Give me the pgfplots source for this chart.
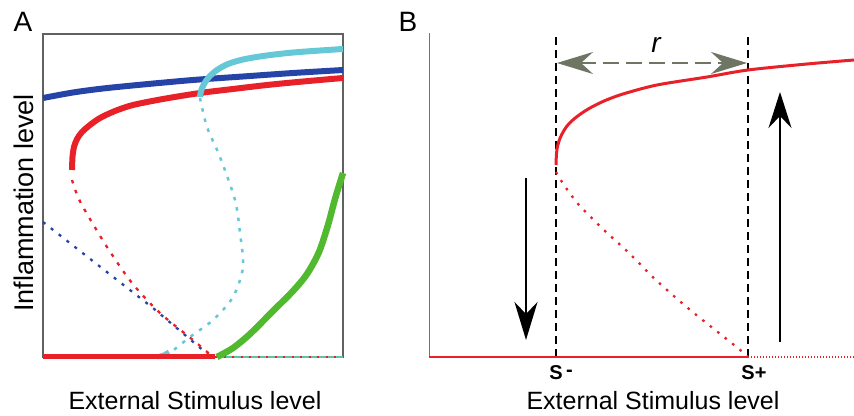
\documentclass[border=0pt]{standalone}
\usepackage{pgfplots}
\pgfplotsset{compat=1.18}
\usepackage{fontspec}
\setmainfont{Liberation Sans}
\usetikzlibrary{arrows.meta}
\definecolor{cblue}{RGB}{38,68,168}
\definecolor{cred}{RGB}{232,32,40}
\definecolor{ccyan}{RGB}{100,200,215}
\definecolor{cgreen}{RGB}{80,185,45}
\definecolor{cgrey}{RGB}{110,117,98}
\begin{document}
\begin{tikzpicture}
\useasboundingbox (0,0) rectangle (854pt,415pt);
% ---------- Panel A ----------
\begin{axis}[at={(43pt,58pt)}, anchor=south west, scale only axis,
  width=300pt, height=323pt, xmin=0, xmax=300, ymin=0, ymax=323,
  xtick=\empty, ytick=\empty, clip=false,
  axis line style={draw=black!62, line width=1.3pt}]
% dashed unstable branches
\addplot[cblue, line width=2.3pt, dash pattern=on 3pt off 7pt] coordinates {(0,135) (60,88) (110,49) (168,0)};
\addplot[cred, line width=2.3pt, dash pattern=on 3.5pt off 7pt, smooth] coordinates {(29,177) (33,165) (40,150) (64,110) (89,74) (117,44) (150,17) (170,0)};
\addplot[ccyan, line width=2.5pt, dash pattern=on 3.5pt off 7pt, smooth] coordinates {(157,259) (164,230) (177,200) (192,157) (197,124) (200,90) (190,60) (170,37) (147,20) (127,4)};
\addplot[ccyan!70!cgreen, line width=2.4pt] coordinates {(170,0) (300,0)};
\addplot[cred, line width=2.4pt, dash pattern=on 2pt off 6.5pt] coordinates {(172,0) (300,0)};
% solid stable branches
\addplot[ccyan, line width=5pt] coordinates {(114,0) (121,2) (126,5)};
\addplot[cred, line width=5pt] coordinates {(0,0) (172,0)};
\addplot[cblue, line width=6pt, smooth] coordinates {(0,259) (30,264.5) (60,268.5) (100,272.5) (150,277) (200,280.5) (250,284) (300,287)};
\addplot[cred, line width=6pt, smooth] coordinates {(29,187) (29.5,200) (31,210) (34,218) (39,225) (47,232) (57,239) (72,246) (90,252) (120,258) (157,264) (190,268) (224,272) (260,275.5) (300,279)};
\addplot[ccyan, line width=6pt, smooth] coordinates {(157,260) (158,266) (161,273) (166,280) (174,287) (185,293) (200,297.5) (220,301) (245,304) (270,306) (300,308)};
\addplot[cgreen, line width=6.5pt, smooth] coordinates {(174,0) (190,9) (207,23) (230,46) (250,66) (264,83) (276,105) (285,132) (292,158) (300,184)};
\end{axis}
% ---------- Panel B ----------
\begin{axis}[at={(429pt,58pt)}, anchor=south west, scale only axis,
  width=425pt, height=324pt, xmin=0, xmax=425, ymin=0, ymax=324,
  hide axis, clip=false]
\addplot[black!55, line width=1pt] coordinates {(0,0) (0,324)};
\addplot[black, line width=1.3pt, dash pattern=on 8pt off 5pt] coordinates {(127,0) (127,324)};
\addplot[black, line width=1.3pt, dash pattern=on 8pt off 5pt] coordinates {(319,0) (319,324)};
\addplot[cred, line width=1.6pt] coordinates {(0,0) (319,0)};
\addplot[cred, line width=1.6pt, dash pattern=on 1pt off 2pt] coordinates {(319,0) (425,0)};
\addplot[cred, line width=2.3pt, dash pattern=on 2.5pt off 7pt, smooth] coordinates {(127,185) (135,172) (150,152) (175,127) (200,104) (228,76) (260,48) (290,24) (310,8) (319,0)};
\addplot[cred, line width=3pt, smooth] coordinates {(127,192) (127.3,200) (128,208) (130,216) (133,223) (138,231) (145,238) (153,244) (161,249) (175,256) (194,263) (228,272) (278,280) (319,287) (378,293) (425,297)};
\addplot[black, line width=1.8pt, -{Stealth[length=38pt, width=23pt, inset=12pt]}] coordinates {(97,179) (97,17)};
\addplot[black, line width=1.8pt, -{Stealth[length=36pt, width=23pt, inset=12pt]}] coordinates {(351,15) (351,265)};
\addplot[cgrey, line width=2.2pt, dash pattern=on 16pt off 7pt, {Stealth[length=36pt, width=22pt, inset=12pt]}-{Stealth[length=36pt, width=22pt, inset=12pt]}] coordinates {(128,294) (318,294)};
\end{axis}
% ---------- Texts ----------
\node[font=\fontsize{28}{32}\selectfont] at (23pt,393pt) {A};
\node[font=\fontsize{28}{32}\selectfont] at (408pt,393pt) {B};
\node[font=\fontsize{27}{32}\selectfont, rotate=90] at (24pt,212pt) {Inflammation level};
\node[font=\fontsize{25}{30}\selectfont, inner sep=0pt] at (195pt,14pt) {External Stimulus level};
\node[font=\fontsize{25}{30}\selectfont, inner sep=0pt] at (653pt,14pt) {External Stimulus level};
\node[font=\fontsize{20}{24}\selectfont\bfseries] at (561pt,42pt) {S\,\raisebox{0.35ex}{-}};
\node[font=\fontsize{20}{24}\selectfont\bfseries] at (754pt,42pt) {S+};
\node[font=\fontsize{28}{32}\selectfont\itshape] at (656pt,370pt) {r};
\end{tikzpicture}
\end{document}
